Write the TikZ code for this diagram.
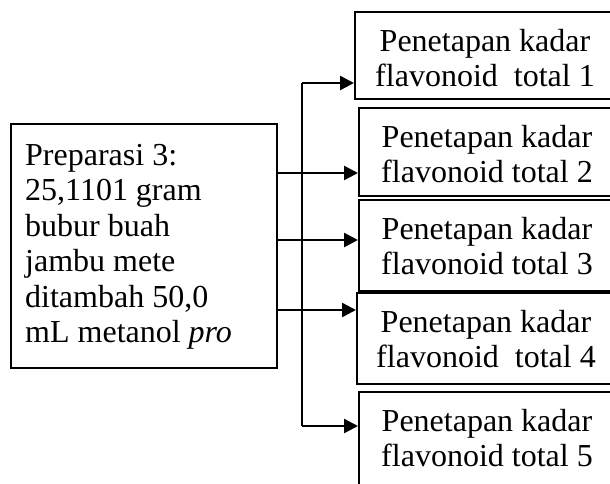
\documentclass[tikz,border=0pt]{standalone}
\usepackage{fontspec}
\setmainfont{Liberation Serif}
\usetikzlibrary{arrows.meta}
\tikzset{
  boxshape/.style={draw=black, line width=2pt, rectangle, inner sep=0pt, anchor=north west},
  boxtext/.style={inner sep=0pt, font=\fontsize{32}{35.5}\selectfont},
  arr/.style={line width=2.4pt, -{Triangle[length=14pt,width=14pt]}},
  ln/.style={line width=2.4pt}
}
\begin{document}
\begin{tikzpicture}[x=1pt,y=-1pt]
\clip (0,0) rectangle (610,483);
\fill[white] (0,0) rectangle (610,483);
% left box
\node[boxshape, minimum width=266pt, minimum height=244pt] (prep) at (10,123) {};
\node[boxtext, anchor=north west, align=left] (preptext) at (25,144)
  {Preparasi 3:\\25,1101 gram\\bubur buah\\jambu mete\\ditambah 50,0\\mL metanol \textit{pro}};
% right boxes
\node[boxshape, minimum width=262pt, minimum height=87pt] (b1) at (354,11) {};
\node[boxshape, minimum width=258pt, minimum height=88pt] (b2) at (358,107) {};
\node[boxshape, minimum width=258pt, minimum height=91pt] (b3) at (358,199) {};
\node[boxshape, minimum width=260pt, minimum height=91pt] (b4) at (356,292) {};
\node[boxshape, minimum width=258pt, minimum height=96pt] (b5) at (358,391) {};
\node[boxtext, anchor=north, align=center] (t1) at (485,29) {Penetapan kadar\\flavonoid\ \ total 1};
\node[boxtext, anchor=north, align=center] (t2) at (487,125) {Penetapan kadar\\flavonoid total 2};
\node[boxtext, anchor=north, align=center] (t3) at (487,217) {Penetapan kadar\\flavonoid total 3};
\node[boxtext, anchor=north, align=center] (t4) at (486,310) {Penetapan kadar\\flavonoid\ \ total 4};
\node[boxtext, anchor=north, align=center] (t5) at (487,409) {Penetapan kadar\\flavonoid total 5};
% connectors
\coordinate (v1) at (302,83);
\coordinate (v5) at (302,426);
\coordinate (s2) at (278,173);
\coordinate (s3) at (278,240);
\coordinate (s4) at (278,310);
\draw[ln] (v1) -- (v5);
\draw[arr] (v1) -- (v1 -| b1.west);
\draw[arr] (v5) -- (v5 -| b5.west);
\draw[arr] (s2) -- (s2 -| b2.west);
\draw[arr] (s3) -- (s3 -| b3.west);
\draw[arr] (s4) -- (s4 -| b4.west);
\end{tikzpicture}
\end{document}
